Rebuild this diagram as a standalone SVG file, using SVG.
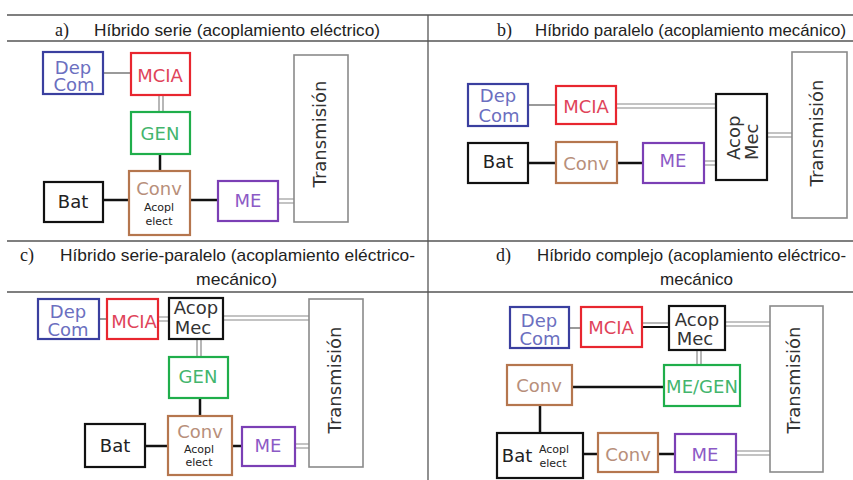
<svg xmlns="http://www.w3.org/2000/svg" width="853" height="480" viewBox="0 0 853 480">
  <style>
    .grid { stroke: #555; stroke-width: 1.3; fill: none; }
    .hd { font-family: "Liberation Sans", Arial, sans-serif; font-size: 17px; fill: #222; }
    .hl { font-family: "Liberation Serif", "Times New Roman", serif; font-size: 18px; fill: #222; }
    .box { fill: #fff; stroke-width: 2.2; }
    .blue { stroke: #3a3f9f; }
    .red { stroke: #e8262f; }
    .green { stroke: #1fae4b; }
    .brown { stroke: #b5764e; }
    .purple { stroke: #7b3fb5; }
    .black { stroke: #111; }
    .trans { fill: #fff; stroke: #8a8a8a; stroke-width: 1.6; }
    .lbl { font-family: "DejaVu Sans", Verdana, sans-serif; font-size: 18px; text-anchor: middle; }
    .sm { font-family: "DejaVu Sans", Verdana, sans-serif; font-size: 11px; text-anchor: middle; fill: #222; }
    .tb { fill: #6b6fc0; }
    .tr { fill: #e0445a; }
    .tg { fill: #43b56d; }
    .tn { fill: #b88f7a; }
    .tp { fill: #8c5ac6; }
    .tk { fill: #222; }
    .tt { fill: #333; }
    .gl { stroke: #9a9a9a; stroke-width: 2; fill: none; }
    .dl { stroke: #888; stroke-width: 1.2; fill: none; }
    .el { stroke: #111; stroke-width: 2.5; fill: none; }
  </style>

  <!-- table rules -->
  <g id="table">
    <line class="grid" x1="7" y1="15" x2="853" y2="15"/>
    <line class="grid" x1="7" y1="41" x2="853" y2="41"/>
    <line class="grid" x1="7" y1="241" x2="853" y2="241"/>
    <line class="grid" x1="7" y1="292" x2="853" y2="292"/>
    <line class="grid" x1="428" y1="15" x2="428" y2="480"/>
  </g>

  <!-- headings -->
  <g id="headings">
    <text class="hl" x="55" y="36">a)</text>
    <text class="hd" x="94" y="36" textLength="286" lengthAdjust="spacingAndGlyphs">Híbrido serie (acoplamiento eléctrico)</text>
    <text class="hl" x="497" y="36">b)</text>
    <text class="hd" x="535" y="36" textLength="311" lengthAdjust="spacingAndGlyphs">Híbrido paralelo (acoplamiento mecánico)</text>
    <text class="hl" x="20" y="261">c)</text>
    <text class="hd" x="60" y="261" textLength="355" lengthAdjust="spacingAndGlyphs">Híbrido serie-paralelo (acoplamiento eléctrico-</text>
    <text class="hd" x="196" y="285" textLength="81" lengthAdjust="spacingAndGlyphs">mecánico)</text>
    <text class="hl" x="496" y="261">d)</text>
    <text class="hd" x="537" y="261" textLength="309" lengthAdjust="spacingAndGlyphs">Híbrido complejo (acoplamiento eléctrico-</text>
    <text class="hd" x="660" y="285" textLength="73" lengthAdjust="spacingAndGlyphs">mecánico</text>
  </g>

  <!-- connectors -->
  <g id="connectors">
    <!-- a -->
    <line class="gl" x1="103" y1="73" x2="131" y2="73"/>
    <path class="dl" d="M159 95 V112 M163 95 V112"/>
    <line class="el" x1="160" y1="154" x2="160" y2="171"/>
    <line class="el" x1="103" y1="200" x2="129" y2="200"/>
    <line class="el" x1="190" y1="200" x2="218" y2="200"/>
    <path class="dl" d="M278 199 H294 M278 203 H294"/>
    <!-- b -->
    <line class="gl" x1="528" y1="105" x2="556" y2="105"/>
    <path class="dl" d="M616 104 H716 M616 108 H716"/>
    <line class="el" x1="528" y1="163" x2="556" y2="163"/>
    <line class="el" x1="617" y1="163" x2="643" y2="163"/>
    <path class="dl" d="M704 161 H716 M704 165 H716"/>
    <path class="dl" d="M767 133 H792 M767 137 H792"/>
    <!-- c -->
    <line class="gl" x1="99" y1="319" x2="107" y2="319"/>
    <path class="dl" d="M158 317 H169 M158 321 H169"/>
    <path class="dl" d="M223 316 H309 M223 320 H309"/>
    <path class="dl" d="M197 339 V357 M201 339 V357"/>
    <line class="el" x1="200" y1="398" x2="200" y2="416"/>
    <line class="el" x1="145" y1="446" x2="168" y2="446"/>
    <line class="el" x1="232" y1="446" x2="242" y2="446"/>
    <path class="dl" d="M295 444 H309 M295 448 H309"/>
    <!-- d -->
    <line class="gl" x1="569" y1="328" x2="581" y2="328"/>
    <line class="dl" x1="642" y1="323" x2="669" y2="323"/>
    <line class="el" x1="642" y1="327" x2="669" y2="327" style="stroke-width:2"/>
    <path class="dl" d="M725 322 H770 M725 326 H770"/>
    <path class="dl" d="M697 350 V365 M701 350 V365"/>
    <line class="el" x1="572" y1="387" x2="664" y2="387"/>
    <line class="el" x1="540" y1="405" x2="540" y2="433"/>
    <line class="el" x1="583" y1="454" x2="598" y2="454"/>
    <line class="el" x1="658" y1="454" x2="675" y2="454"/>
    <path class="dl" d="M736 451 H770 M736 455 H770"/>
  </g>

  <!-- a) series hybrid -->
  <g id="a-depcom"><rect class="box blue" x="43" y="52" width="60" height="42"/><text class="lbl tb" x="73" y="74">Dep</text><text class="lbl tb" x="74" y="91">Com</text></g>
  <g id="a-mcia"><rect class="box red" x="131" y="53" width="59" height="42"/><text class="lbl tr" x="160" y="82">MCIA</text></g>
  <g id="a-gen"><rect class="box green" x="131" y="112" width="59" height="42"/><text class="lbl tg" x="160" y="140">GEN</text></g>
  <g id="a-conv"><rect class="box brown" x="129" y="171" width="61" height="64"/><text class="lbl tn" x="159" y="195">Conv</text><text class="sm" x="159" y="211">Acopl</text><text class="sm" x="159" y="225">elect</text></g>
  <g id="a-bat"><rect class="box black" x="44" y="182" width="59" height="40"/><text class="lbl tk" x="73" y="208">Bat</text></g>
  <g id="a-me"><rect class="box purple" x="218" y="181" width="60" height="40"/><text class="lbl tp" x="248" y="207">ME</text></g>
  <g id="a-trans"><rect class="trans" x="294" y="55" width="54" height="167"/><text class="lbl tt" transform="translate(326 134) rotate(-90)">Transmisión</text></g>

  <!-- b) parallel hybrid -->
  <g id="b-depcom"><rect class="box blue" x="468" y="84" width="60" height="42"/><text class="lbl tb" x="498" y="102">Dep</text><text class="lbl tb" x="499" y="122">Com</text></g>
  <g id="b-mcia"><rect class="box red" x="556" y="86" width="60" height="38"/><text class="lbl tr" x="586" y="113">MCIA</text></g>
  <g id="b-acopmec"><rect class="box black" x="716" y="94" width="51" height="86"/><text class="lbl tt" style="text-anchor:start" transform="translate(740 160) rotate(-90)">Acop</text><text class="lbl tt" style="text-anchor:start" transform="translate(758 160) rotate(-90)">Mec</text></g>
  <g id="b-bat"><rect class="box black" x="468" y="143" width="60" height="40"/><text class="lbl tk" x="498" y="168">Bat</text></g>
  <g id="b-conv"><rect class="box brown" x="556" y="142" width="61" height="41"/><text class="lbl tn" x="586" y="170">Conv</text></g>
  <g id="b-me"><rect class="box purple" x="643" y="143" width="61" height="40"/><text class="lbl tp" x="673" y="167">ME</text></g>
  <g id="b-trans"><rect class="trans" x="792" y="52" width="55" height="166"/><text class="lbl tt" transform="translate(823 133) rotate(-90)">Transmisión</text></g>

  <!-- c) series-parallel hybrid -->
  <g id="c-depcom"><rect class="box blue" x="38" y="299" width="61" height="40"/><text class="lbl tb" x="68" y="318">Dep</text><text class="lbl tb" x="68" y="336">Com</text></g>
  <g id="c-mcia"><rect class="box red" x="107" y="299" width="51" height="40"/><text class="lbl tr" x="134" y="328">MCIA</text></g>
  <g id="c-acopmec"><rect class="box black" x="169" y="298" width="54" height="41"/><text class="lbl tt" x="196" y="314">Acop</text><text class="lbl tt" x="193" y="334">Mec</text></g>
  <g id="c-gen"><rect class="box green" x="169" y="357" width="59" height="41"/><text class="lbl tg" x="198" y="383">GEN</text></g>
  <g id="c-conv"><rect class="box brown" x="168" y="416" width="64" height="59"/><text class="lbl tn" x="200" y="438">Conv</text><text class="sm" x="199" y="453">Acopl</text><text class="sm" x="199" y="466">elect</text></g>
  <g id="c-bat"><rect class="box black" x="85" y="424" width="60" height="43"/><text class="lbl tk" x="115" y="452">Bat</text></g>
  <g id="c-me"><rect class="box purple" x="242" y="427" width="53" height="39"/><text class="lbl tp" x="268" y="452">ME</text></g>
  <g id="c-trans"><rect class="trans" x="309" y="299" width="54" height="168"/><text class="lbl tt" transform="translate(341 380) rotate(-90)">Transmisión</text></g>

  <!-- d) complex hybrid -->
  <g id="d-depcom"><rect class="box blue" x="510" y="307" width="59" height="41"/><text class="lbl tb" x="539" y="327">Dep</text><text class="lbl tb" x="540" y="345">Com</text></g>
  <g id="d-mcia"><rect class="box red" x="581" y="307" width="61" height="40"/><text class="lbl tr" x="611" y="334">MCIA</text></g>
  <g id="d-acopmec"><rect class="box black" x="669" y="306" width="56" height="44"/><text class="lbl tt" x="697" y="326">Acop</text><text class="lbl tt" x="695" y="345">Mec</text></g>
  <g id="d-megen"><rect class="box green" x="664" y="365" width="76" height="41"/><text class="lbl tg" x="702" y="393">ME/GEN</text></g>
  <g id="d-conv1"><rect class="box brown" x="507" y="365" width="65" height="40"/><text class="lbl tn" x="539" y="392">Conv</text></g>
  <g id="d-bat"><rect class="box black" x="497" y="433" width="86" height="45"/><text class="lbl tk" x="517" y="462">Bat</text><text class="sm" x="554" y="453">Acopl</text><text class="sm" x="553" y="467">elect</text></g>
  <g id="d-conv2"><rect class="box brown" x="598" y="433" width="60" height="39"/><text class="lbl tn" x="628" y="461">Conv</text></g>
  <g id="d-me"><rect class="box purple" x="675" y="434" width="61" height="38"/><text class="lbl tp" x="705" y="461">ME</text></g>
  <g id="d-trans"><rect class="trans" x="770" y="306" width="53" height="166"/><text class="lbl tt" transform="translate(800 380) rotate(-90)">Transmisión</text></g>
</svg>
